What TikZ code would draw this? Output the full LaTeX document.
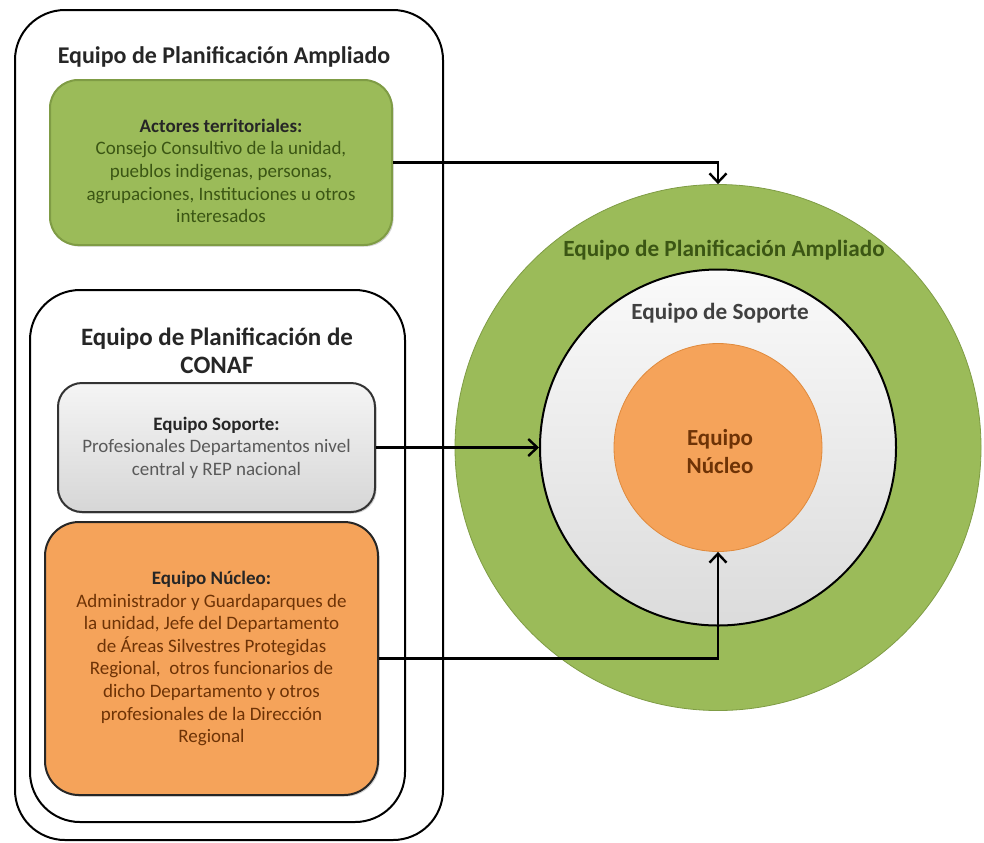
\documentclass[tikz,border=0pt]{standalone}
\usepackage{fontspec}
\setmainfont{Carlito}
\usepackage{tikz}
\usetikzlibrary{arrows.meta,shadows}
\definecolor{verde}{HTML}{9BBB59}
\definecolor{verdeborde}{HTML}{7F9C45}
\definecolor{verdetexto}{HTML}{3B5614}
\definecolor{naranjo}{HTML}{F5A35A}
\definecolor{naranjoborde}{HTML}{E08A3C}
\definecolor{cafetexto}{HTML}{6E3306}
\definecolor{grisoscuro}{HTML}{404040}

\begin{document}
\begin{tikzpicture}[x=0.5pt,y=-0.5pt,>={Straight Barb[length=4.5pt,width=8.5pt]},
  marco/.style={draw,line width=1pt,rounded corners=25pt,inner sep=0pt},
  caja/.style={draw,line width=1pt,align=center,inner sep=0pt,
    drop shadow={shadow xshift=0.8pt,shadow yshift=-0.8pt,opacity=0.35},
    font=\fontsize{9.5}{11.3}\selectfont},
  titulo/.style={font=\bfseries\fontsize{12}{14}\selectfont,text=black!85,align=center},
  rotulo/.style={font=\bfseries\fontsize{11.6}{14}\selectfont,align=center},
  circulo/.style={circle,inner sep=0pt},
  conector/.style={->,line width=1.2pt}]
  \useasboundingbox (0,0) rectangle (984,842);

	% cuadros de la izquierda
	\node[marco, minimum width=214pt, minimum height=415pt] (ampliado) at (229,425) {};
	\node[titulo] (tampliado) at (224,57) {Equipo de Planificación Ampliado};
	\node[caja, fill=verde, draw=verdeborde, rounded corners=14pt, minimum width=171pt, minimum height=82.5pt, text=verdetexto] (actores) at (221,162.5)
		{\rule{0pt}{15pt}\textcolor{black!85}{\textbf{Actores territoriales:}}\\ Consejo Consultivo de la unidad,\\ pueblos indigenas, personas,\\ agrupaciones, Instituciones u otros\\ interesados};

	\node[marco, minimum width=187.5pt, minimum height=266pt] (conaf) at (217.5,556) {};
	\node[titulo, font=\bfseries\fontsize{12.5}{14}\selectfont] (tconaf) at (217,351) {Equipo de Planificación de\\ CONAF};
	\node[caja, top color=gray!8, bottom color=gray!32, draw=black!80, rounded corners=12pt, minimum width=158.5pt, minimum height=64.5pt, text=black!65] (soporte) at (216.5,447.5)
		{\textcolor{black!85}{\textbf{Equipo Soporte:}}\\ Profesionales Departamentos nivel\\ central y REP nacional};
	\node[caja, fill=naranjo, draw=black!85, rounded corners=17pt, minimum width=166.5pt, minimum height=136.5pt, text=cafetexto] (nucleo) at (211.5,658.5)
		{\textcolor{black!85}{\textbf{Equipo Núcleo:}}\\ Administrador y Guardaparques de\\ la unidad, Jefe del Departamento\\ de Áreas Silvestres Protegidas\\ Regional,~ otros funcionarios de\\ dicho Departamento y otros\\ profesionales de la Dirección\\ Regional};

	% circulos
	\node[circulo, fill=verde, draw=verdeborde, minimum size=263pt] (cverde) at (718,447.5) {};
	\node[circulo, top color=gray!4, bottom color=gray!28, draw=black, line width=1pt, minimum size=178pt] (cgris) at (718,447.5) {};
	\node[circulo, fill=naranjo, draw=naranjoborde, minimum size=104pt] (cnaranjo) at (718,447.5) {};
	\node[rotulo, text=verdetexto] (rverde) at (724,250) {Equipo de Planificación Ampliado};
	\node[rotulo, text=grisoscuro] (rgris) at (720,313) {Equipo de Soporte};
	\node[rotulo, text=cafetexto, font=\bfseries\fontsize{11.5}{14}\selectfont] (rnaranjo) at (720,452) {Equipo\\ Núcleo};

	\draw[conector] (actores.east) -| (cverde.north);
	\draw[conector] (soporte.east) -- (cgris.west);
	\draw[conector] (nucleo.east) -| (cnaranjo.south);
\end{tikzpicture}
\end{document}
